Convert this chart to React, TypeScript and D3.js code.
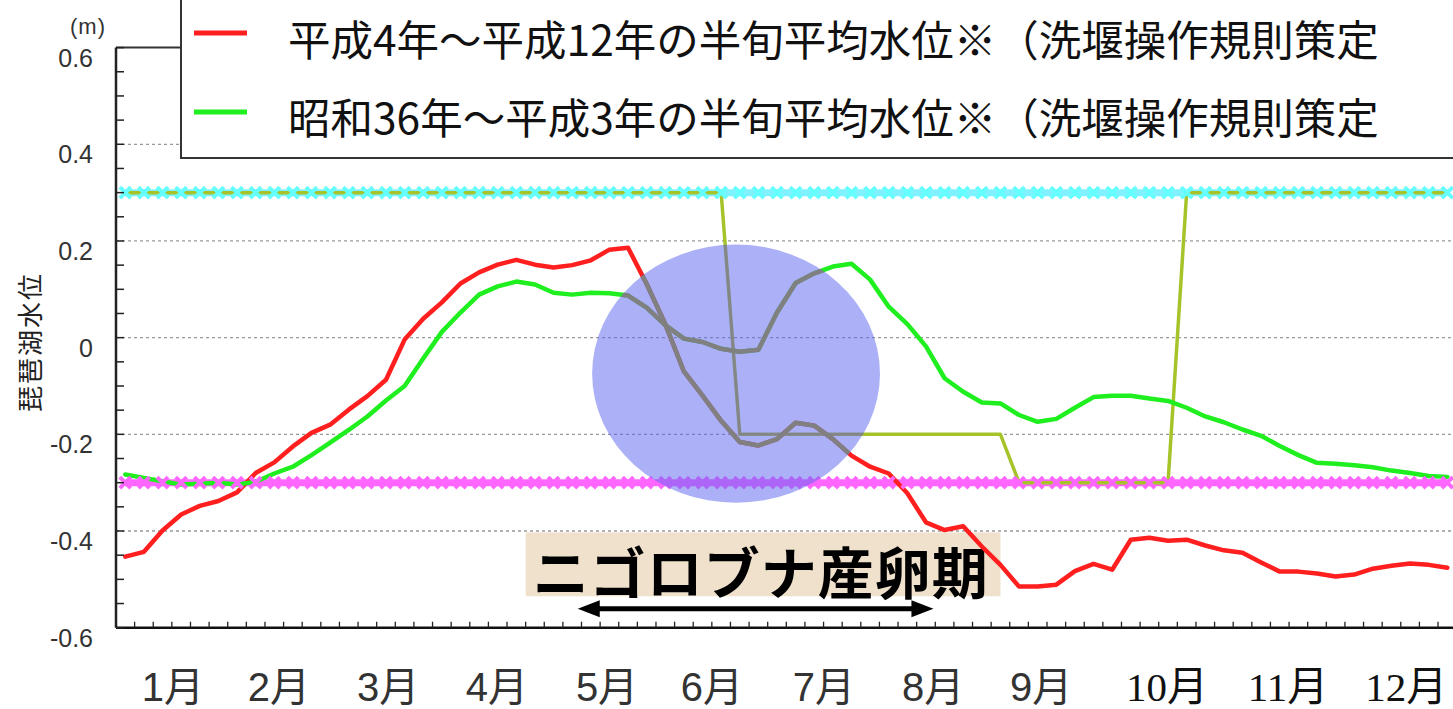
import React from 'react';
import * as d3 from 'd3';

// ---- data ----
const halfMonthCount = 72; // 半旬 (5-day periods) in a year
const monthLabels = ['1月', '2月', '3月', '4月', '5月', '6月', '7月', '8月', '9月', '10月', '11月', '12月'];
// label anchor positions, in half-month units
const monthLabelPos = [3.06, 8.75, 14.61, 20.46, 26.37, 32.0, 38.02, 43.88, 49.68, 56.44, 62.94, 69.3];

// 平成4年～平成12年 (red)
const recentLevels = [
  -0.453, -0.443, -0.399, -0.366, -0.348, -0.338, -0.32, -0.28, -0.258, -0.225,
  -0.197, -0.18, -0.149, -0.121, -0.087, -0.004, 0.039, 0.073, 0.112, 0.135,
  0.151, 0.161, 0.151, 0.145, 0.15, 0.16, 0.182, 0.186, 0.111, 0.028,
  -0.07, -0.12, -0.172, -0.216, -0.223, -0.21, -0.176, -0.182, -0.21, -0.244,
  -0.267, -0.281, -0.322, -0.382, -0.398, -0.39, -0.432, -0.47, -0.515, -0.515,
  -0.511, -0.483, -0.468, -0.48, -0.418, -0.414, -0.42, -0.418, -0.43, -0.44,
  -0.445, -0.465, -0.484, -0.484, -0.488, -0.494, -0.49, -0.478, -0.472, -0.467,
  -0.47, -0.476,
];
// 昭和36年～平成3年 (green)
const pastLevels = [
  -0.283, -0.29, -0.297, -0.304, -0.302, -0.3, -0.304, -0.298, -0.281, -0.267,
  -0.243, -0.217, -0.191, -0.163, -0.13, -0.1, -0.043, 0.012, 0.052, 0.089,
  0.106, 0.116, 0.11, 0.093, 0.089, 0.093, 0.092, 0.087, 0.062, 0.026,
  -0.002, -0.009, -0.023, -0.029, -0.025, 0.052, 0.113, 0.133, 0.147, 0.153,
  0.12, 0.064, 0.028, -0.018, -0.084, -0.112, -0.134, -0.136, -0.16, -0.174,
  -0.168, -0.145, -0.123, -0.12, -0.12, -0.126, -0.131, -0.145, -0.163, -0.175,
  -0.19, -0.203, -0.224, -0.243, -0.259, -0.261, -0.264, -0.268, -0.275, -0.28,
  -0.286, -0.288,
];
// operating rule target level (olive step line)
const ruleIdx = [0, 32, 33, 47, 48, 56, 57, 71];
const ruleVal = [0.3, 0.3, -0.2, -0.2, -0.3, -0.3, 0.3, 0.3];
const upperLevel = 0.3;
const lowerLevel = -0.3;

const yTickLabels = [0.6, 0.4, 0.2, 0, -0.2, -0.4, -0.6];
const gridLevels = [0.4, 0.2, 0, -0.2, -0.4];

const legendItems = [
  { label: '平成4年～平成12年の半旬平均水位※（洗堰操作規則策定', color: '#ff1f1f' },
  { label: '昭和36年～平成3年の半旬平均水位※（洗堰操作規則策定', color: '#1fee1f' },
];

// annotation (data units)
const spawnLabel = 'ニゴロブナ産卵期';
const spawnBox = { x0: 22.0, x1: 47.5, y0: -0.403, y1: -0.535 };
const spawnArrow = { x0: 24.8, x1: 43.9, y: -0.561 };
const focusEllipse = { cx: 33.3, cy: -0.0745, rx: 7.73, ry: 0.267 };

// ---- layout ----
const W = 1453;
const H = 709;
const plotLeft = 116;
const plotTop = 47.6;
const plotBottom = 627.7;
const halfWidth = 18.62;

export default function App() {
  const x = d3.scaleLinear().domain([0, halfMonthCount]).range([plotLeft, plotLeft + halfMonthCount * halfWidth]);
  const y = d3.scaleLinear().domain([-0.6, 0.6]).range([plotBottom, plotTop]);
  const idx = d3.range(halfMonthCount);

  const seriesLine = d3
    .line<number>()
    .x((_, i) => x(i + 0.5))
    .y((d) => y(d));
  const ruleLine = d3
    .line<number>()
    .x((_, i) => x(ruleIdx[i] + 0.5))
    .y((d) => y(d));
  const flatLine = (v: number) => `M${x(0.5)},${y(v)}L${x(halfMonthCount - 0.5)},${y(v)}`;
  const crossMarks = (v: number) =>
    idx
      .map((i) => {
        const cx = x(i + 0.5);
        const cy = y(v);
        const s = 5.5;
        return `M${cx - s},${cy - s}L${cx + s},${cy + s}M${cx + s},${cy - s}L${cx - s},${cy + s}`;
      })
      .join('');

  const minorY = d3.range(-12, 13).map((k) => k * 0.05);
  const xTicks = d3.range(1, halfMonthCount + 1);

  const ex = x(focusEllipse.cx);
  const ey = y(focusEllipse.cy);
  const erx = x(focusEllipse.rx) - x(0);
  const ery = y(0) - y(focusEllipse.ry);

  const ax0 = x(spawnArrow.x0);
  const ax1 = x(spawnArrow.x1);
  const ay = y(spawnArrow.y);

  const cjk = "'Noto Sans CJK JP', 'Noto Sans', sans-serif";

  return (
    <svg width={W} height={H} viewBox={`0 0 ${W} ${H}`} style={{ position: 'absolute', left: 0, top: 0, background: '#fff' }}>
      <defs>
        <clipPath id="plotClip">
          <rect x={plotLeft} y={plotTop} width={W - plotLeft} height={plotBottom - plotTop} />
        </clipPath>
        <clipPath id="ellClip">
          <ellipse cx={ex} cy={ey} rx={erx} ry={ery} />
        </clipPath>
      </defs>

      {/* grid */}
      {gridLevels.map((v) => (
        <line key={v} x1={plotLeft} x2={W} y1={y(v)} y2={y(v)} stroke="#999" strokeWidth={1.3} strokeDasharray="3,3" />
      ))}

      {/* annotation box */}
      <rect
        x={x(spawnBox.x0)}
        y={y(spawnBox.y0)}
        width={x(spawnBox.x1) - x(spawnBox.x0)}
        height={y(spawnBox.y1) - y(spawnBox.y0)}
        fill="#f0e1cd"
      />
      <text
        x={x(spawnBox.x0) + 7}
        y={(y(spawnBox.y0) + y(spawnBox.y1)) / 2 + 5}
        fontFamily={cjk}
        fontSize={56}
        fontWeight="bold"
        dominantBaseline="central"
        fill="#000"
        textLength={455}
        lengthAdjust="spacing"
      >
        {spawnLabel}
      </text>
      {/* arrow */}
      <line x1={ax0 + 18} x2={ax1 - 18} y1={ay} y2={ay} stroke="#000" strokeWidth={5} />
      <path d={`M${ax0},${ay}L${ax0 + 22},${ay - 8.5}L${ax0 + 22},${ay + 8.5}Z`} fill="#000" />
      <path d={`M${ax1},${ay}L${ax1 - 22},${ay - 8.5}L${ax1 - 22},${ay + 8.5}Z`} fill="#000" />

      <g clipPath="url(#plotClip)">
        {/* reference levels lines */}
        <path d={flatLine(upperLevel)} stroke="#80f2ff" strokeWidth={7} fill="none" />
        <path d={flatLine(lowerLevel)} stroke="#ff66ff" strokeWidth={7} fill="none" />
        {/* rule step */}
        <path d={ruleLine(ruleVal) || ''} stroke="#a6c42a" strokeWidth={3.5} fill="none" strokeLinejoin="round" />
        {/* series */}
        <path d={seriesLine(recentLevels) || ''} stroke="#ff1f1f" strokeWidth={4.5} fill="none" strokeLinejoin="round" strokeLinecap="round" />
        <path d={seriesLine(pastLevels) || ''} stroke="#1fee1f" strokeWidth={4.5} fill="none" strokeLinejoin="round" strokeLinecap="round" />
        {/* markers */}
        <path d={crossMarks(upperLevel)} stroke="#66ffff" strokeWidth={4} fill="none" />
        <path d={crossMarks(lowerLevel)} stroke="#ff66ff" strokeWidth={4} fill="none" />

        {/* focus ellipse */}
        <ellipse cx={ex} cy={ey} rx={erx} ry={ery} fill="#5a64f0" fillOpacity={0.5} />
        <g clipPath="url(#ellClip)">
          <path d={ruleLine(ruleVal) || ''} stroke="#858585" strokeWidth={2.5} fill="none" />
          <path d={seriesLine(recentLevels) || ''} stroke="#808080" strokeWidth={4.5} fill="none" strokeLinejoin="round" />
          <path d={seriesLine(pastLevels) || ''} stroke="#808080" strokeWidth={4.5} fill="none" strokeLinejoin="round" />
        </g>
      </g>

      {/* axes frame */}
      <line x1={plotLeft} x2={W} y1={plotTop} y2={plotTop} stroke="#333" strokeWidth={2} />
      <line x1={plotLeft} x2={plotLeft} y1={plotTop} y2={plotBottom} stroke="#222" strokeWidth={2.5} />
      <line x1={plotLeft} x2={W} y1={plotBottom} y2={plotBottom} stroke="#111" strokeWidth={2.5} />
      {minorY.map((v) => (
        <line key={v} x1={plotLeft} x2={plotLeft + 8} y1={y(v)} y2={y(v)} stroke="#222" strokeWidth={1.5} />
      ))}
      {xTicks.map((k) => (
        <line key={k} x1={x(k)} x2={x(k)} y1={plotBottom} y2={plotBottom - 6} stroke="#222" strokeWidth={1.3} />
      ))}

      {/* y labels */}
      {yTickLabels.map((v) => (
        <text
          key={v}
          x={93}
          y={y(v) + 10}
          textAnchor="end"
          dominantBaseline="central"
          fontFamily="'Liberation Sans', Arial, sans-serif"
          fontSize={25}
          fill="#333"
        >
          {v === 0 ? '0' : v.toFixed(1)}
        </text>
      ))}
      <text x={88} y={26} textAnchor="middle" dominantBaseline="central" fontFamily="'Liberation Sans', sans-serif" fontSize={22} fill="#333" letterSpacing={1}>
        (m)
      </text>
      <text
        transform={`translate(28,342) rotate(-90)`}
        textAnchor="middle"
        dominantBaseline="central"
        fontFamily={cjk}
        fontSize={26}
        fill="#222"
        letterSpacing={2}
      >
        琵琶湖水位
      </text>

      {/* x labels */}
      {monthLabels.map((m, i) => (
        <text
          key={m}
          x={x(monthLabelPos[i])}
          y={700.5}
          textAnchor="middle"
          fontFamily={
            i >= 9
              ? "'Liberation Serif', 'Noto Sans CJK JP', serif"
              : "'Liberation Sans', 'Noto Sans CJK JP', sans-serif"
          }
          fontSize={i >= 9 ? 41 : 40}
          fill={i >= 9 ? '#111' : '#333'}
        >
          {m}
        </text>
      ))}

      {/* legend */}
      <rect x={181} y={-10} width={W} height={168} fill="#fff" stroke="#333" strokeWidth={2} />
      {legendItems.map((it, i) => (
        <g key={i}>
          <line x1={194} x2={247} y1={i === 0 ? 33 : 112} y2={i === 0 ? 33 : 112} stroke={it.color} strokeWidth={5} />
          <text x={288} y={i === 0 ? 37 : 115} dominantBaseline="central" fontFamily={cjk} fontSize={42.5} fill="#111">
            {it.label}
          </text>
        </g>
      ))}
    </svg>
  );
}
